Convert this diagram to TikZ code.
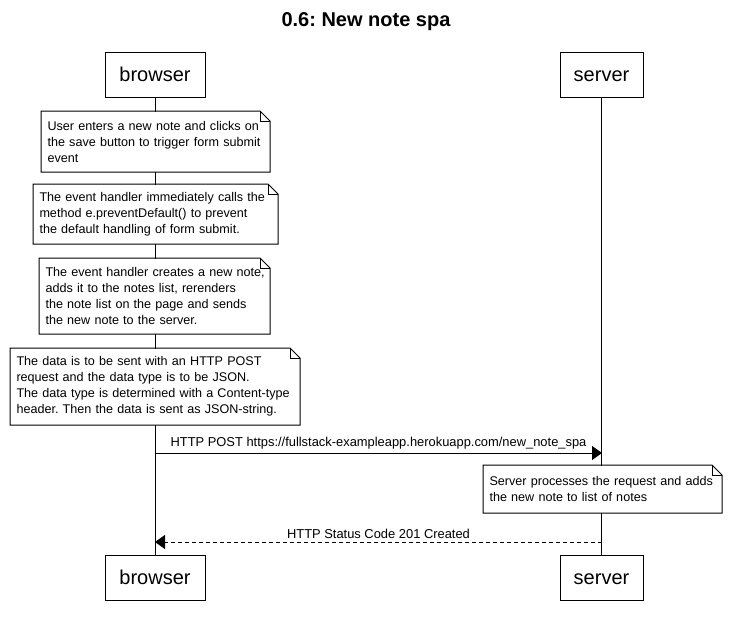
\documentclass[tikz,border=0pt]{standalone}
\usepackage{fontspec}
\setmainfont{Liberation Sans}
\usetikzlibrary{arrows.meta,backgrounds}
\newcommand{\dogear}[1]{%
  \draw (#1.north west) -- ([xshift=-10pt]#1.north east) -- ([yshift=-10pt]#1.north east) -- (#1.south east) -- (#1.south west) -- cycle;
  \draw ([xshift=-10pt]#1.north east) |- ([yshift=-10pt]#1.north east);}
\newcommand{\nl}[1]{\mbox{#1}}
\hfuzz=100pt
\hbadness=10000
\frenchspacing
\begin{document}
\begin{tikzpicture}[x=1pt,y=-1pt,line width=1pt,
  actor/.style={draw,fill=white,minimum height=45pt,inner sep=0pt,text height=16pt,text depth=2pt,font=\fontsize{20}{24}\selectfont},
  notebox/.style={fill=white,inner xsep=6pt,inner ysep=0pt,align=left,anchor=north west,font=\fontsize{12.6}{16}\selectfont},
  msg/.style={-{Triangle[length=10pt,width=14pt]}},
  lbl/.style={font=\fontsize{12.9}{16}\selectfont,inner sep=0pt}]
\useasboundingbox (0,0) rectangle (731,624);
\node[font=\fontsize{20}{24}\selectfont\bfseries] (title) at (366,22) {0.6: New note spa};
\node[actor,minimum width=100pt] (bt) at (155,74.5) {browser};
\node[actor,minimum width=83pt] (st) at (601.5,74.5) {server};
\node[actor,minimum width=100pt] (bb) at (155,577.5) {browser};
\node[actor,minimum width=83pt] (sb) at (601.5,577.5) {server};
\begin{scope}[on background layer]
  \draw (bt) -- (bb);
  \draw (st) -- (sb);
\end{scope}
\node[notebox,minimum width=228pt,minimum height=60pt,text width=216pt] (n1) at (41,111)
  {\nl{User enters a new note and clicks on}\\\nl{the save button to trigger form submit}\\\nl{event}};
\dogear{n1}
\node[notebox,minimum width=244pt,minimum height=59pt,text width=232pt] (n2) at (33,184)
  {\nl{The event handler immediately calls the}\\\nl{method e.preventDefault() to prevent}\\\nl{the default handling of form submit.}};
\dogear{n2}
\node[notebox,minimum width=230pt,minimum height=75pt,text width=218pt] (n3) at (39,258)
  {\nl{The event handler creates a new note,}\\\nl{adds it to the notes list, rerenders}\\\nl{the note list on the page and sends}\\\nl{the new note to the server.}};
\dogear{n3}
\node[notebox,minimum width=289pt,minimum height=76pt,text width=277pt] (n4) at (10,348)
  {\nl{The data is to be sent with an HTTP POST}\\\nl{request and the data type is to be JSON.}\\\nl{The data type is determined with a Content-type}\\\nl{header. Then the data is sent as JSON-string.}};
\dogear{n4}
\coordinate (m1a) at (155,453);
\coordinate (m1b) at (602,453);
\draw[msg] (m1a) -- node[lbl,above=3pt] (l1) {HTTP POST https://fullstack-exampleapp.herokuapp.com/new\_note\_spa} (m1b);
\node[notebox,minimum width=238pt,minimum height=47pt,text width=226pt] (n5) at (483,465)
  {\nl{Server processes the request and adds}\\\nl{the new note to list of notes}};
\dogear{n5}
\coordinate (m2a) at (602,542);
\coordinate (m2b) at (155,542);
\draw[msg,dash pattern=on 4pt off 3pt] (m2a) -- node[lbl,above=3pt] (l2) {HTTP Status Code 201 Created} (m2b);
\end{tikzpicture}
\end{document}
